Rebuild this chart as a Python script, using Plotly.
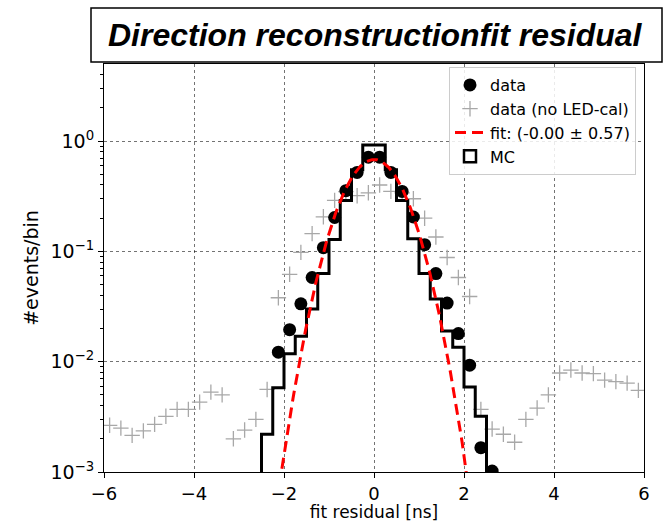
import numpy as np
import plotly.graph_objects as go

# ---------------- data ----------------
bin_centers = [-5.875, -5.625, -5.375, -5.125, -4.875, -4.625, -4.375, -4.125,
               -3.875, -3.625, -3.375, -3.125, -2.875, -2.625, -2.375, -2.125,
               -1.875, -1.625, -1.375, -1.125, -0.875, -0.625, -0.375, -0.125,
               0.125, 0.375, 0.625, 0.875, 1.125, 1.375, 1.625, 1.875,
               2.125, 2.375, 2.625, 2.875, 3.125, 3.375, 3.625, 3.875,
               4.125, 4.375, 4.625, 4.875, 5.125, 5.375, 5.625, 5.875]

no_led_cal = [0.00265, 0.0025, 0.00215, 0.00236, 0.0027, 0.0032, 0.0037, 0.0037,
              0.0043, 0.0053, 0.0050, 0.0020, 0.0024, 0.0030, 0.0056, 0.038,
              0.062, 0.098, 0.145, 0.206, 0.29, 0.348, 0.32, 0.34,
              0.40, 0.35, 0.34, 0.30, 0.20, 0.135, 0.088, 0.058,
              0.039, 0.0037, 0.00245, 0.0022, 0.00186, 0.0030, 0.0038, 0.0050,
              0.0079, 0.0084, 0.0079, 0.0078, 0.0068, 0.0066, 0.0064, 0.0055]

data_x = [-2.125, -1.875, -1.625, -1.375, -1.125, -0.875, -0.625, -0.375, -0.125,
          0.125, 0.375, 0.625, 0.875, 1.125, 1.375, 1.625, 1.875, 2.125, 2.375, 2.625]
data_y = [0.0122, 0.0195, 0.0335, 0.058, 0.108, 0.203, 0.355, 0.52, 0.715,
          0.715, 0.52, 0.35, 0.205, 0.115, 0.063, 0.034, 0.018, 0.0093, 0.00166, 0.00102]

mc_edges = [-2.5, -2.25, -2.0, -1.75, -1.5, -1.25, -1.0, -0.75, -0.5, -0.25, 0.0,
            0.25, 0.5, 0.75, 1.0, 1.25, 1.5, 1.75, 2.0, 2.25, 2.5]
mc_values = [0.0022, 0.0058, 0.0118, 0.017, 0.030, 0.063, 0.128, 0.29, 0.55, 0.92,
             0.92, 0.55, 0.29, 0.13, 0.063, 0.037, 0.019, 0.0135, 0.0059, 0.0032]
mc_floor = 1e-6  # histogram baseline (below the visible range)

fit_mean = 0.0
fit_sigma = 0.57
fit_amp = 0.68

title_text = "Direction reconstructionfit residual"
x_ticks = [-6, -4, -2, 0, 2, 4, 6]
y_ticks = [1e-3, 1e-2, 1e-1, 1]
y_ticktext = ["10<sup>\u22123</sup>", "10<sup>\u22122</sup>", "10<sup>\u22121</sup>", "10<sup>0</sup>"]

# ---------------- figure ----------------
W, H = 664, 522
ML, MR, MT, MB = 104, 20, 64, 50
PW, PH = W - ML - MR, H - MT - MB


def px_to_paper_x(px):
    return (px - ML) / PW


def px_to_paper_y(py):
    return (H - MB - py) / PH


fig = go.Figure()

# data (no LED-cal): gray crosses
fig.add_trace(go.Scatter(
    x=bin_centers, y=no_led_cal, mode="markers", name="data (no LED-cal)",
    marker=dict(symbol="cross-thin", size=11, color="#a8a8a8",
                line=dict(width=1.3, color="#a8a8a8")),
    legendrank=2,
))

# MC step histogram
step_x = [mc_edges[0]] + list(mc_edges) + [mc_edges[-1]]
step_y = [mc_floor] + list(mc_values) + [mc_values[-1], mc_floor]
fig.add_trace(go.Scatter(
    x=step_x, y=step_y, mode="lines", line=dict(shape="hv", color="black", width=3),
    showlegend=False, hoverinfo="skip",
))
# legend entry for MC (outlined patch)
fig.add_trace(go.Bar(
    x=[None], y=[None], name="MC",
    marker=dict(color="white", line=dict(color="black", width=2.5)),
    legendrank=4,
))

# data: black dots
fig.add_trace(go.Scatter(
    x=data_x, y=data_y, mode="markers", name="data",
    marker=dict(symbol="circle", size=13, color="black"),
    legendrank=1,
))

# gaussian fit curve
fx = np.linspace(-3, 3, 301)
fy = fit_amp * np.exp(-0.5 * ((fx - fit_mean) / fit_sigma) ** 2)
fig.add_trace(go.Scatter(
    x=fx, y=fy, mode="lines",
    name="fit: (%.2f \u00b1 %.2f)" % (-0.0, fit_sigma),
    line=dict(color="#ff0000", width=3, dash="11px,6px"),
    legendrank=3,
))

xaxis_font = dict(family="DejaVu Sans", size=17, color="black")
yaxis_font = dict(family="DejaVu Sans", size=19, color="black")

fig.update_layout(
    width=W, height=H,
    margin=dict(l=ML, r=MR, t=MT, b=MB, autoexpand=False),
    paper_bgcolor="white", plot_bgcolor="white",
    font=yaxis_font,
    showlegend=True,
    legend=dict(
        x=px_to_paper_x(636), y=px_to_paper_y(67), xanchor="right", yanchor="top",
        bgcolor="rgba(255,255,255,0.85)", bordercolor="#cccccc", borderwidth=1,
        font=dict(family="DejaVu Sans", size=16, color="black"),
        tracegroupgap=0, itemwidth=30,
    ),
    xaxis=dict(
        range=[-6, 6], tickvals=x_ticks, ticks="outside", ticklen=5, tickwidth=1,
        tickcolor="black", showline=True, linecolor="black", linewidth=1, mirror=True,
        showgrid=True, gridcolor="rgba(0,0,0,0.55)", griddash="dot", gridwidth=1,
        zeroline=False, tickfont=dict(family="DejaVu Sans", size=18, color="black"),
        title=dict(text="fit residual [ns]", font=xaxis_font, standoff=7),
    ),
    yaxis=dict(
        type="log", range=[-3, np.log10(5)], tickvals=y_ticks, ticktext=y_ticktext,
        ticks="outside", ticklen=5, tickwidth=1, tickcolor="black",
        showline=True, linecolor="black", linewidth=1, mirror=True,
        showgrid=True, gridcolor="rgba(0,0,0,0.55)", griddash="dot", gridwidth=1,
        zeroline=False, tickfont=yaxis_font,
        minor=dict(ticks="outside", ticklen=3, tickwidth=1, tickcolor="black",
                   tickvals=[2e-3, 3e-3, 4e-3, 5e-3, 6e-3, 7e-3, 8e-3, 9e-3,
                             2e-2, 3e-2, 4e-2, 5e-2, 6e-2, 7e-2, 8e-2, 9e-2,
                             0.2, 0.3, 0.4, 0.5, 0.6, 0.7, 0.8, 0.9, 2, 3, 4],
                   showgrid=False),
        title=dict(text="#events/bin", font=yaxis_font, standoff=6),
    ),
)

# title box
fig.add_shape(type="rect", xref="paper", yref="paper",
              x0=px_to_paper_x(91), x1=px_to_paper_x(662),
              y0=px_to_paper_y(62), y1=px_to_paper_y(8),
              line=dict(color="black", width=1.5), fillcolor="white", layer="above")
fig.add_annotation(
    text="<b><i>%s</i></b>" % title_text, xref="paper", yref="paper",
    x=px_to_paper_x(375), y=px_to_paper_y(35), xanchor="center", yanchor="middle",
    showarrow=False, font=dict(family="Liberation Sans", size=32, color="black"),
)

fig.write_html("out.html")
